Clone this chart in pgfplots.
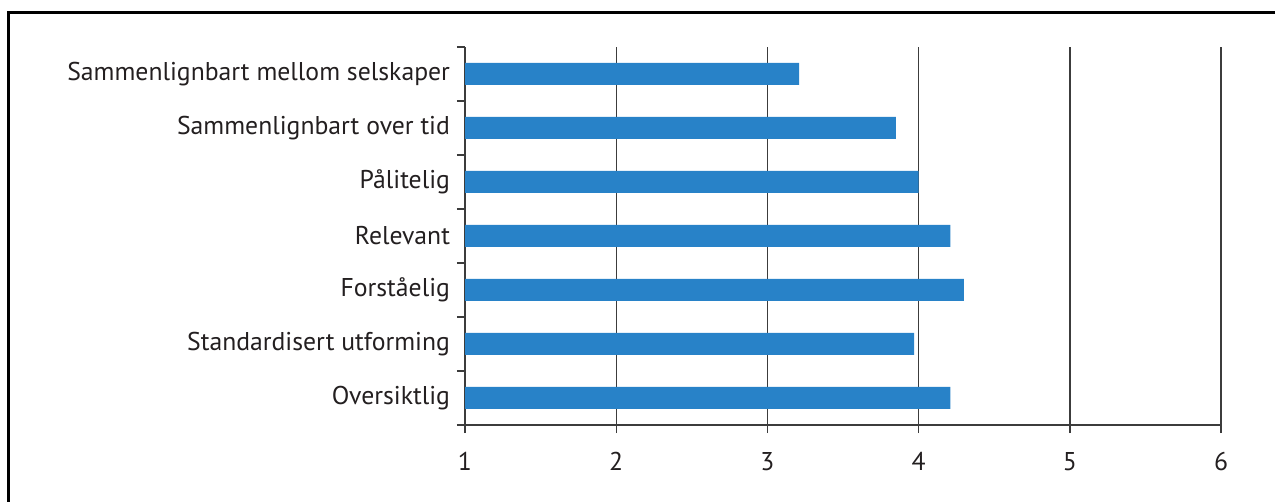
\documentclass[border=0pt]{standalone}
\usepackage{fontspec}
\setmainfont{PT Sans}
\usepackage{pgfplots}
\pgfplotsset{compat=1.18}
\definecolor{barblue}{RGB}{40,130,200}
\definecolor{txt}{RGB}{35,31,32}
\definecolor{gridc}{RGB}{60,60,60}
\begin{document}
\begin{tikzpicture}
\path[use as bounding box] (0,0) rectangle (637.5bp,251bp);
\draw[line width=1.2bp, black] (4.25bp,0) -- (4.25bp,244.75bp) -- (637.5bp,244.75bp);
\begin{axis}[
  at={(232.5bp,38.5bp)}, anchor=south west,
  scale only axis, width=378bp, height=189bp,
  xbar, bar width=11bp,
  xmin=1, xmax=6, ymin=-0.5, ymax=6.5,
  xtick={1,2,3,4,5,6},
  ytick={0,1,2,3,4,5,6},
  yticklabels={Oversiktlig,Standardisert utforming,Forståelig,Relevant,Pålitelig,Sammenlignbart over tid,Sammenlignbart mellom selskaper},
  minor ytick={-0.5,0.5,...,6.5},
  major y tick style={draw=none},
  minor y tick style={gridc, line width=0.7bp},
  minor tick length=4bp,
  major tick length=4bp,
  tick align=outside,
  x tick style={gridc, line width=0.7bp},
  xmajorgrids, major x grid style={gridc, line width=0.7bp},
  axis x line*=bottom, axis y line*=left,
  axis line style={gridc, line width=0.7bp},
  ticklabel style={font=\fontsize{12.9}{15}\selectfont, text=txt},
  yticklabel style={xshift=0bp},
  xticklabel style={yshift=-6bp},
  /pgf/number format/assume math mode=true,
  clip=true,
]
\addplot[fill=barblue, draw=none] coordinates {
  (4.21,0) (3.97,1) (4.30,2) (4.21,3) (4.00,4) (3.85,5) (3.21,6)
};
\end{axis}
\end{tikzpicture}
\end{document}
